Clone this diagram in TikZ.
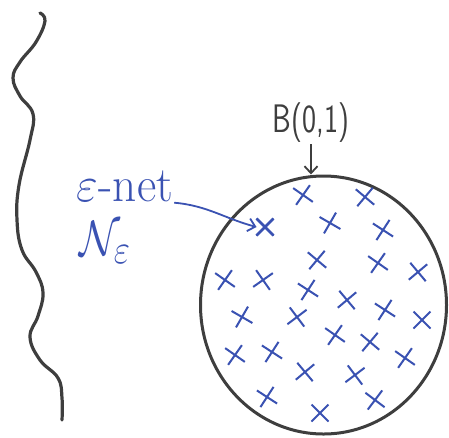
\documentclass[tikz,border=0pt]{standalone}
\usepackage{amsmath}
\usepackage{graphicx}
\usepackage{tikz}
\usetikzlibrary{shapes.geometric, shapes.misc, arrows.meta, positioning}

\definecolor{penblue}{RGB}{58,82,178}
\definecolor{pengray}{RGB}{62,62,62}

\newcommand{\bigpen}[3]{\scalebox{#1}[#2]{#3}}

\begin{document}
\begin{tikzpicture}[
        x=1pt, y=-1pt,
        % ball drawn with a thick marker
        ball/.style={
            ellipse,
            draw=pengray,
            line width=3pt,
            minimum width=246pt,
            minimum height=258pt,
            inner sep=0pt
        },
        % one point of the net
        xmark/.style={
            cross out,
            draw=penblue,
            line width=2pt,
            minimum size=15pt,
            inner sep=0pt,
            rotate=#1
        },
        xmark/.default=8,
        % labels
        blacklabel/.style={text=pengray, font=\Huge\sffamily, inner sep=1pt},
        bluelabel/.style={text=penblue, font=\Huge, inner sep=1pt},
        % arrows
        arrow/.style={
            -{Straight Barb[length=7pt, width=13pt]},
            line width=1.8pt,
            draw=#1
        },
        arrow/.default=pengray
    ]
    \useasboundingbox (0,0) rectangle (449,437);

    % ================= wavy line =================
    \draw[pengray, line width=3.2pt, line cap=round] plot[smooth, tension=0.7] coordinates {
        (40,13) (45,21) (36,42) (20,62) (13,78) (20,96) (33,114) (30,140)
        (19,185) (17,220) (22,250) (36,272) (43,293) (38,316) (30,337)
        (40,360) (58,378) (62,398) (62,420)};

    % ================= ball =================
    \node[ball] (ball) at (323.5,305) {};

    % ================= points of the net =================
    \foreach \px/\py/\rot [count=\i] in {
        303/195/10, 365/197/5, 265/227/0, 330/223/15, 383/230/12,
        317/260/5, 378/263/10, 418/272/-5, 225/280/10, 263/280/-10,
        308/290/12, 347/300/-5, 242/317/15, 297/317/-8, 385/310/12,
        422/320/0, 335/335/10, 370/342/5, 235/355/10, 272/352/12,
        305/372/-5, 355/375/-8, 405/358/10, 267/397/12, 375/400/8,
        320/413/0}
        \node[xmark=\rot] (x\i) at (\px,\py) {};
    % the marked point is drawn twice, more heavily
    \draw[penblue, line width=2.8pt] (x3.north west) -- (x3.south east)
        (x3.north east) -- (x3.south west);

    % ================= labels =================
    \node[blacklabel] (blabel) at (311,123) {\bigpen{1.2}{1.6}{B(0,1)}};
    \node[bluelabel] (net) at (125,186) {\bigpen{1.9}{2.0}{$\varepsilon$-net}};
    \node[bluelabel, below=18pt of net, xshift=-20pt] (netN) {\bigpen{1.7}{2.0}{$\mathcal{N}_{\varepsilon}$}};

    % ================= arrows =================
    \draw[arrow] (blabel.south) -- (blabel.south |- ball.north);
    \draw[arrow=penblue] (net.south east) to[out=-5, in=165] (x3.west);

\end{tikzpicture}
\end{document}
